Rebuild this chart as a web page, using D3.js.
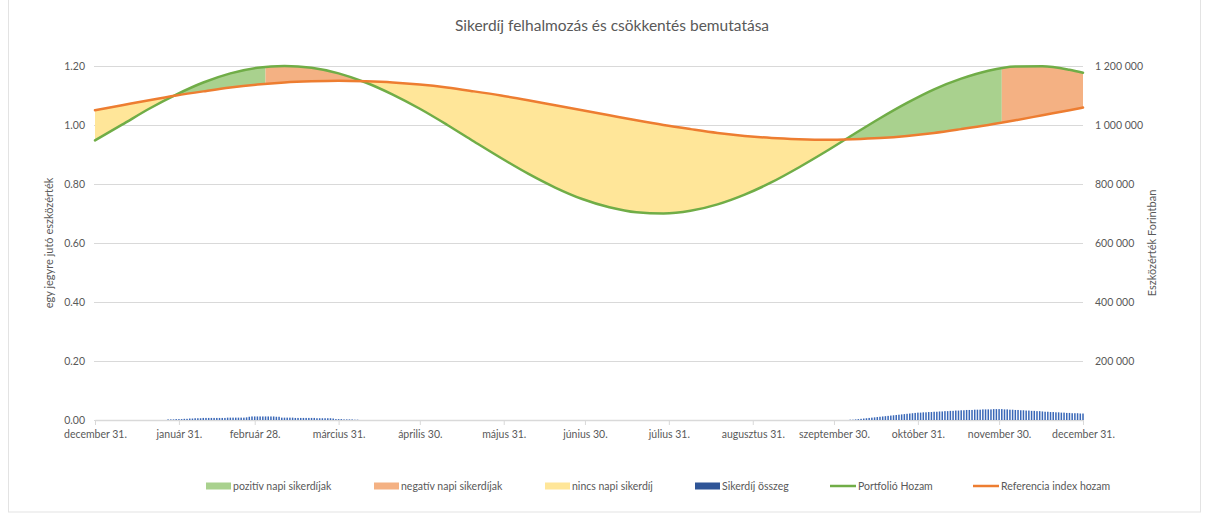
<!DOCTYPE html>
<html>
<head>
<meta charset="utf-8">
<script src="https://cdn.jsdelivr.net/npm/d3@7"></script>
<style>
  body { margin: 0; background: #ffffff; }
  #chart { width: 1210px; height: 523px; }
  #chart text { font-family: Lato, "Open Sans", sans-serif; fill: #595959; }
</style>
</head>
<body>
<div id="chart"></div>
<script>
// ---- data ----
const startDate = new Date(2018, 11, 31);

// day offsets from december 31. where the two return series were read
const sampleDays = [0, 10, 20, 30, 40, 50, 60, 70, 80, 90, 100, 110, 120, 130, 140, 150, 160, 170, 180,
                    190, 200, 210, 220, 230, 240, 250, 260, 270, 280, 290, 300, 310, 320, 330, 340, 350, 360, 365];
const portfolioReturn = [0.948, 1.001, 1.055, 1.103, 1.144, 1.175, 1.194, 1.200, 1.194, 1.175, 1.144, 1.103, 1.055,
                         1.001, 0.944, 0.888, 0.835, 0.788, 0.749, 0.721, 0.704, 0.700, 0.709, 0.731, 0.764, 0.806,
                         0.856, 0.910, 0.967, 1.023, 1.075, 1.121, 1.157, 1.184, 1.198, 1.199, 1.187, 1.177];
const referenceReturn = [1.050, 1.067, 1.084, 1.100, 1.114, 1.127, 1.137, 1.144, 1.148, 1.150, 1.148, 1.144, 1.137,
                         1.127, 1.114, 1.100, 1.084, 1.067, 1.050, 1.033, 1.016, 1.000, 0.986, 0.973, 0.963, 0.956,
                         0.952, 0.950, 0.952, 0.956, 0.963, 0.973, 0.986, 1.000, 1.016, 1.033, 1.050, 1.059];

// daily success fee total, thousand Ft
const feeStartDay1 = 27;
const feeDaily1 = [2, 2, 2, 3, 3, 3, 4, 4, 5, 5,
                   6, 6, 6, 7, 7, 7, 7, 7, 7, 7, 7, 7, 8, 8, 8, 8, 8, 8, 8, 9,
                   11, 12, 12, 12, 12, 12, 12, 12, 12, 12, 11, 11,
                   8, 8, 8, 8, 8, 7, 7, 7, 7, 7, 7, 7, 7, 6, 6, 6, 6, 6, 6, 5,
                   3, 3, 3, 2, 2, 2, 2, 1, 1];
const feeStartDay2 = 279;
const feeDaily2 = [1, 1, 2, 3, 4, 5, 6, 7, 8, 9, 10, 11,
                   12, 13, 14, 15, 16, 17, 18, 19, 20, 21, 22, 23, 24, 25,
                   25, 26, 26, 27, 27, 28, 28, 29, 29, 30, 30, 31, 31, 32, 32, 33,
                   33, 34, 34, 34, 35, 35, 35, 36, 36, 36, 36, 37, 37, 37, 37,
                   36, 36, 35, 35, 34, 34, 33, 33, 32, 32, 31, 31, 30, 30, 29,
                   28, 28, 27, 27, 26, 26, 25, 25, 24, 24, 23, 23, 23, 22, 22];

// periods between the two lines: none / positive / negative daily fee
const periodBreaks = [0, 29.5, 63, 99, 277, 335, 365];
const periodKinds = ["none", "positive", "negative", "none", "positive", "negative"];

const tickDays = [0, 31, 59, 90, 120, 151, 181, 212, 243, 273, 304, 334, 365];
const tickLabels = ["december 31.", "január 31.", "február 28.", "március 31.", "április 30.", "május 31.",
                    "június 30.", "július 31.", "augusztus 31.", "szeptember 30.", "október 31.",
                    "november 30.", "december 31."];
const leftTicks = [0, 0.2, 0.4, 0.6, 0.8, 1.0, 1.2];
const rightTicks = [200000, 400000, 600000, 800000, 1000000, 1200000];

const legendLabels = ["pozitív napi sikerdíjak", "negatív napi sikerdíjak", "nincs napi sikerdíj",
                      "Sikerdíj összeg", "Portfolió Hozam", "Referencia index hozam"];

// ---- styles ----
const colors = {
  positive: "#A9D18E",
  negative: "#F4B183",
  none: "#FFE699",
  fee: "#2F5597",
  feeBar: "#3A68B8",
  portfolio: "#70AD47",
  reference: "#ED7D31",
  grid: "#D9D9D9"
};

const width = 1210, height = 523;
const plot = { left: 94, right: 1083, top: 66, bottom: 420 };

const svg = d3.select("#chart").append("svg")
  .attr("width", width)
  .attr("height", height);

// chart area border
svg.append("rect")
  .attr("x", 8.5).attr("y", -1)
  .attr("width", 1192).attr("height", 513)
  .attr("fill", "none")
  .attr("stroke", "#E3E3E3");

const toDate = d => d3.timeDay.offset(startDate, d);
const toDateF = d => new Date(startDate.getTime() + d * 86400000);

const x = d3.scaleTime()
  .domain([startDate, toDate(365)])
  .range([95, plot.right]);
const yLeft = d3.scaleLinear().domain([0, 1.2]).range([plot.bottom, plot.top]);
const yRight = d3.scaleLinear().domain([0, 1200000]).range([plot.bottom, plot.top]);

// left axis + gridlines
const leftAxis = svg.append("g")
  .attr("transform", `translate(${plot.left},0)`)
  .call(d3.axisLeft(yLeft)
    .tickValues(leftTicks)
    .tickFormat(d3.format(".2f"))
    .tickSize(-(plot.right - plot.left))
    .tickPadding(9));
leftAxis.select(".domain").remove();
leftAxis.selectAll("line").attr("stroke", colors.grid);
leftAxis.selectAll("text").style("font-size", "10.5px");

// right axis
const rightAxis = svg.append("g")
  .attr("transform", `translate(${plot.right},0)`)
  .call(d3.axisRight(yRight)
    .tickValues(rightTicks)
    .tickFormat(d => d3.format(",")(d).replace(/,/g, " "))
    .tickSize(0)
    .tickPadding(12));
rightAxis.select(".domain").remove();
rightAxis.selectAll("text").style("font-size", "10.5px");

// bottom axis
const bottomAxis = svg.append("g")
  .attr("transform", `translate(0,${plot.bottom})`)
  .call(d3.axisBottom(x)
    .tickValues(tickDays.map(toDate))
    .tickFormat((d, i) => tickLabels[i])
    .tickSizeInner(5)
    .tickSizeOuter(0)
    .tickPadding(6));
bottomAxis.select(".domain").attr("stroke", colors.grid).attr("stroke-width", 1.5);
bottomAxis.selectAll("line").attr("stroke", colors.grid);
bottomAxis.selectAll("text").style("font-size", "10.5px");

// series
const series = sampleDays.map((d, i) => ({
  date: toDate(d),
  portfolio: portfolioReturn[i],
  reference: referenceReturn[i]
}));

const areaBetween = d3.area()
  .x(d => x(d.date))
  .y0(d => yLeft(d.reference))
  .y1(d => yLeft(d.portfolio))
  .curve(d3.curveMonotoneX);

const defs = svg.append("defs");
periodKinds.forEach((kind, i) => {
  const x0 = x(toDateF(periodBreaks[i]));
  const x1 = x(toDateF(periodBreaks[i + 1]));
  defs.append("clipPath").attr("id", `period-${i}`)
    .append("rect")
    .attr("x", x0).attr("y", 0)
    .attr("width", x1 - x0).attr("height", height);
  svg.append("path")
    .datum(series)
    .attr("clip-path", `url(#period-${i})`)
    .attr("d", areaBetween)
    .attr("fill", colors[kind]);
});

// success fee bars (right axis)
const fees = feeDaily1.map((v, i) => ({ date: toDate(feeStartDay1 + i), value: v * 1000 }))
  .concat(feeDaily2.map((v, i) => ({ date: toDate(feeStartDay2 + i), value: v * 1000 })));
const barWidth = 1.5;
svg.append("g")
  .selectAll("rect")
  .data(fees)
  .join("rect")
  .attr("x", d => x(d.date) - barWidth / 2)
  .attr("y", d => yRight(d.value))
  .attr("width", barWidth)
  .attr("height", d => plot.bottom - yRight(d.value))
  .attr("fill", colors.feeBar);

// lines
const lineOf = key => d3.line()
  .x(d => x(d.date))
  .y(d => yLeft(d[key]))
  .curve(d3.curveMonotoneX);

svg.append("path")
  .datum(series)
  .attr("d", lineOf("portfolio"))
  .attr("fill", "none")
  .attr("stroke", colors.portfolio)
  .attr("stroke-width", 2.5)
  .attr("stroke-linecap", "round");

svg.append("path")
  .datum(series)
  .attr("d", lineOf("reference"))
  .attr("fill", "none")
  .attr("stroke", colors.reference)
  .attr("stroke-width", 2.5)
  .attr("stroke-linecap", "round");

// title
svg.append("text")
  .attr("x", 612).attr("y", 31)
  .attr("text-anchor", "middle")
  .style("font-size", "15.5px")
  .text("Sikerdíj felhalmozás és csökkentés bemutatása");

// axis titles
svg.append("text")
  .attr("transform", "translate(53,243) rotate(-90)")
  .attr("text-anchor", "middle")
  .style("font-size", "11px")
  .text("egy jegyre jutó eszközérték");

svg.append("text")
  .attr("transform", "translate(1156,243) rotate(-90)")
  .attr("text-anchor", "middle")
  .style("font-size", "11px")
  .text("Eszközérték Forintban");

// legend
const legendX = [206, 374, 545, 695, 830, 973];
const legendKinds = ["positive", "negative", "none", "fee", "portfolio", "reference"];
const legendY = 486;
const legend = svg.append("g");
legendKinds.forEach((kind, i) => {
  const g = legend.append("g").attr("transform", `translate(${legendX[i]},${legendY})`);
  if (i < 4) {
    g.append("rect").attr("x", 0).attr("y", -3.5).attr("width", 25).attr("height", 7)
      .attr("fill", colors[kind]);
  } else {
    g.append("line").attr("x1", 0).attr("x2", 26).attr("y1", 0).attr("y2", 0)
      .attr("stroke", colors[kind]).attr("stroke-width", 2.5);
  }
  g.append("text")
    .attr("x", i < 4 ? 27 : 28).attr("y", 0)
    .attr("dy", "0.35em")
    .style("font-size", "10.5px")
    .text(legendLabels[i]);
});
</script>
</body>
</html>
